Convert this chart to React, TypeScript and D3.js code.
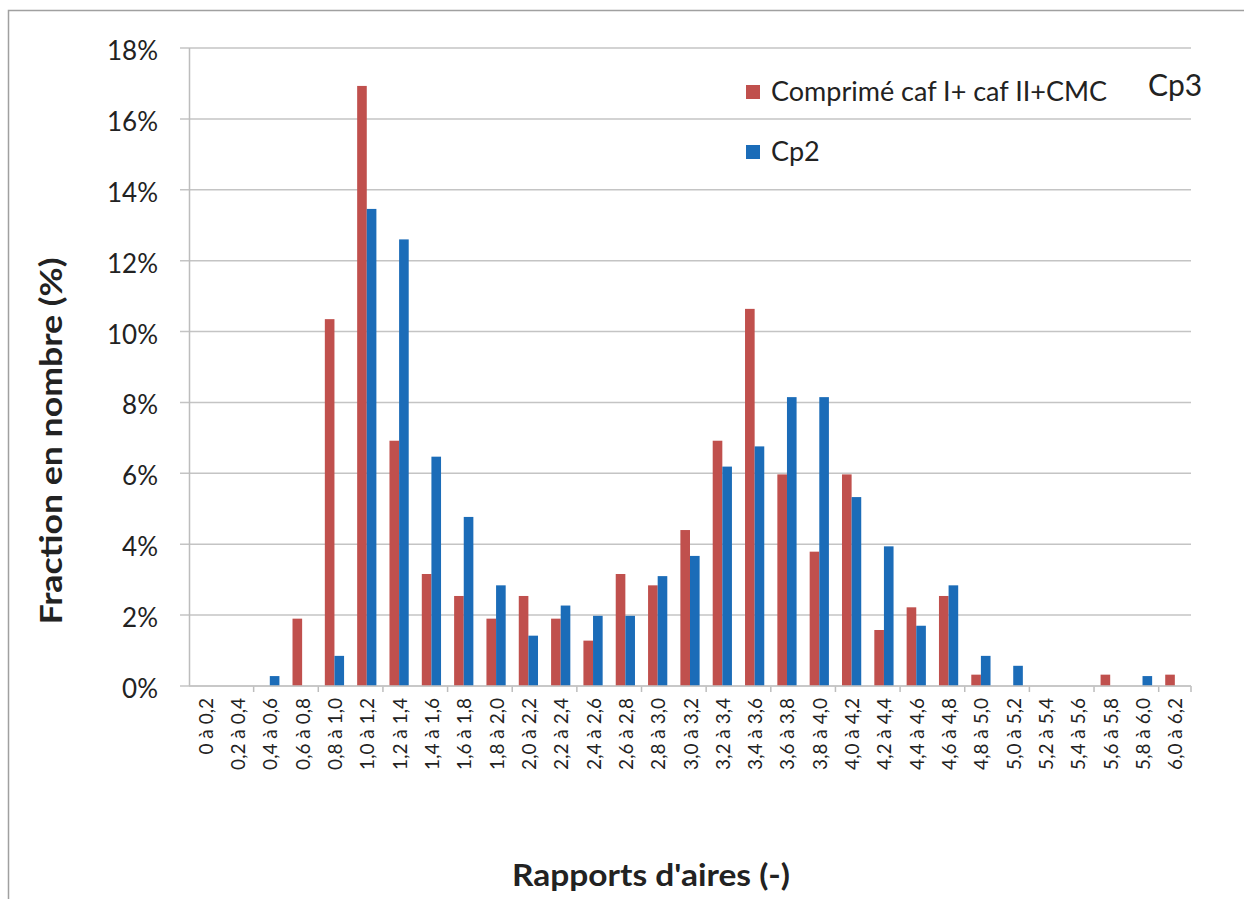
import React from "react";
import * as d3 from "d3";

const categories: string[] = [
  "0 à 0,2", "0,2 à 0,4", "0,4 à 0,6", "0,6 à 0,8", "0,8 à 1,0", "1,0 à 1,2", "1,2 à 1,4", "1,4 à 1,6",
  "1,6 à 1,8", "1,8 à 2,0", "2,0 à 2,2", "2,2 à 2,4", "2,4 à 2,6", "2,6 à 2,8", "2,8 à 3,0", "3,0 à 3,2",
  "3,2 à 3,4", "3,4 à 3,6", "3,6 à 3,8", "3,8 à 4,0", "4,0 à 4,2", "4,2 à 4,4", "4,4 à 4,6", "4,6 à 4,8",
  "4,8 à 5,0", "5,0 à 5,2", "5,2 à 5,4", "5,4 à 5,6", "5,6 à 5,8", "5,8 à 6,0", "6,0 à 6,2",
];

const cp3Values: number[] = [
  0, 0, 0, 1.9, 10.35, 16.93, 6.92, 3.16, 2.54, 1.9, 2.54, 1.9, 1.28, 3.16, 2.84, 4.4,
  6.92, 10.64, 5.97, 3.79, 5.97, 1.58, 2.22, 2.54, 0.32, 0, 0, 0, 0.32, 0, 0.32,
];

const cp2Values: number[] = [
  0, 0, 0.28, 0, 0.85, 13.46, 12.6, 6.47, 4.77, 2.84, 1.42, 2.27, 1.98, 1.98, 3.1, 3.67,
  6.19, 6.76, 8.15, 8.15, 5.33, 3.94, 1.7, 2.84, 0.85, 0.57, 0, 0, 0, 0.28, 0,
];

const yTicks: number[] = [0, 2, 4, 6, 8, 10, 12, 14, 16, 18];

const seriesNames: string[] = ["Comprimé caf I+ caf II+CMC", "Cp2"];
const seriesKeys: string[] = ["cp3", "cp2"];
const colors: string[] = ["#C0504D", "#1B6CB8"];

const W = 1244;
const H = 899;
const plotLeft = 189;
const plotRight = 1191;
const plotTop = 48;
const plotBottom = 686;
const font = "Lato, 'Open Sans', sans-serif";

export default function App() {
  const x = d3.scaleBand<string>().domain(categories).range([plotLeft, plotRight]).paddingInner(0).paddingOuter(0);
  const xs = d3.scaleBand<string>().domain(seriesKeys).range([0, x.bandwidth()]).paddingInner(0).paddingOuter(0.68);
  const y = d3.scaleLinear().domain([0, 18]).range([plotBottom, plotTop]);
  const data = [cp3Values, cp2Values];

  return (
    <svg width={W} height={H} style={{ position: "absolute", left: 0, top: 0, background: "#fff" }}>
      <rect x={8.5} y={10.5} width={W + 20} height={H + 20} fill="#fff" stroke="#A0A0A0" strokeWidth={1.5} />
      {/* gridlines */}
      {yTicks.map((t) => (
        <line key={"g" + t} x1={180} x2={plotRight} y1={y(t)} y2={y(t)} stroke="#C4C4C4" strokeWidth={1.5} />
      ))}
      {/* y axis */}
      <line x1={plotLeft + 0.5} x2={plotLeft + 0.5} y1={plotTop} y2={plotBottom} stroke="#BDBDBD" strokeWidth={1.5} />
      {/* x ticks every two categories */}
      {categories.map((c, i) =>
        i % 2 === 0 && i > 0 ? (
          <line key={"xt" + i} x1={x(c)!} x2={x(c)!} y1={plotBottom} y2={plotBottom + 6} stroke="#BDBDBD" strokeWidth={1.5} />
        ) : null
      )}
      <line x1={plotRight} x2={plotRight} y1={plotBottom} y2={plotBottom + 6} stroke="#BDBDBD" strokeWidth={1.5} />
      {/* bars */}
      {data.map((vals, si) =>
        vals.map((v, i) =>
          v > 0 ? (
            <rect
              key={si + "-" + i}
              x={x(categories[i])! + xs(seriesKeys[si])!}
              y={y(v)}
              width={xs.bandwidth()}
              height={y(0) - y(v)}
              fill={colors[si]}
            />
          ) : null
        )
      )}
      {/* x axis */}
      <line x1={plotLeft} x2={plotRight} y1={plotBottom} y2={plotBottom} stroke="#C4C4C4" strokeWidth={1.5} />
      {/* y tick labels */}
      {yTicks.map((t) => (
        <text key={"yl" + t} x={158} y={y(t) + 2} textAnchor="end" dominantBaseline="central" fontFamily={font} fontSize={26} fill="#222">
          {t + "%"}
        </text>
      ))}
      {/* x tick labels */}
      {categories.map((c) => {
        const cx = x(c)! + x.bandwidth() / 2;
        return (
          <text key={"xl" + c} transform={`translate(${cx},698) rotate(-90)`} textAnchor="end" dominantBaseline="central" fontFamily={font} fontSize={19} fill="#222">
            {c}
          </text>
        );
      })}
      {/* axis titles */}
      <text transform="translate(62,441) rotate(-90)" textAnchor="middle" fontFamily={font} fontWeight="bold" fontSize={30} fill="#222" textLength={367} lengthAdjust="spacingAndGlyphs">
        Fraction en nombre (%)
      </text>
      <text x={651} y={886} textAnchor="middle" fontFamily={font} fontWeight="bold" fontSize={30} fill="#222" textLength={278} lengthAdjust="spacingAndGlyphs">
        Rapports d'aires (-)
      </text>
      {/* legend */}
      {seriesNames.map((name, i) => (
        <g key={"lg" + i}>
          <rect x={746} y={i === 0 ? 85 : 145} width={14} height={14} fill={colors[i]} />
          <text x={771} y={i === 0 ? 101 : 161} fontFamily={font} fontSize={27} fill="#222">
            {name}
          </text>
        </g>
      ))}
      <text x={1148} y={96} fontFamily={font} fontSize={30} fill="#222">
        Cp3
      </text>
    </svg>
  );
}
